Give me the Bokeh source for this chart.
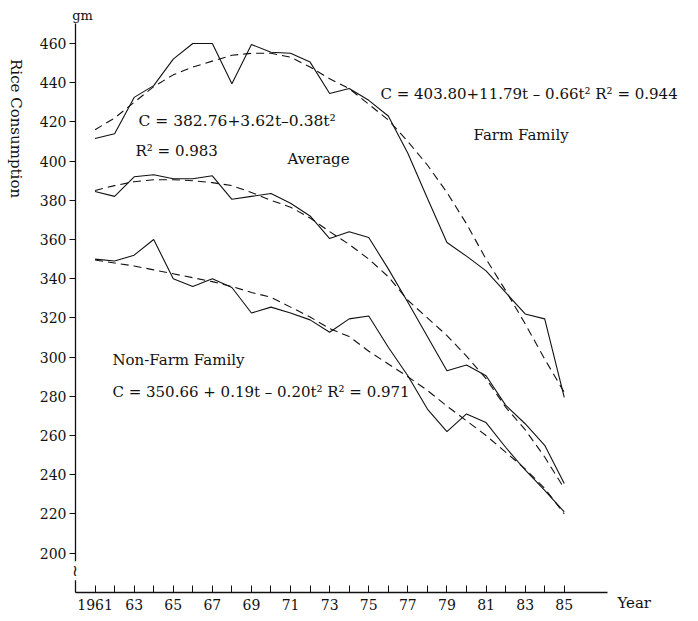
import math
from bokeh.plotting import figure
from bokeh.models import Range1d, FixedTicker, Label, LinearAxis
from bokeh.embed import file_html
from bokeh.resources import INLINE

# ---- data ----
years = [1961, 1962, 1963, 1964, 1965, 1966, 1967, 1968, 1969, 1970, 1971, 1972, 1973,
         1974, 1975, 1976, 1977, 1978, 1979, 1980, 1981, 1982, 1983, 1984, 1985]

farm = [411.5, 414, 432.5, 438.5, 452, 460, 460, 439.5, 459.5, 455.5, 455, 450.5, 434.5,
        437, 431, 423, 404, 381, 358.5, 351.5, 344, 333, 322, 319.5, 279.5]
farm_fit = [416, 422, 430, 438, 444, 448, 451, 454, 455, 455, 453, 448, 442,
            437, 429, 421, 410, 398, 384, 368, 350, 334, 317, 299, 282]

average = [384.5, 382, 392, 393, 391, 391, 392.5, 380.5, 382, 383.5, 378.5, 372, 360.5,
           364, 361, 345, 328, 310.5, 293, 296, 290.5, 275.5, 266, 255, 235.5]
average_fit = [385, 387.5, 389.5, 390.5, 390.5, 390, 389, 387.5, 384, 380, 376.5, 371, 364,
               357.5, 350, 341, 329, 320, 311, 300.5, 289, 274.5, 263, 249, 233]

nonfarm = [350, 349, 352, 360, 340, 336, 340, 335.5, 322.5, 325.5, 322.5, 319, 312.7,
           319.5, 321, 305, 290.5, 273.5, 262, 271, 266.6, 254, 242.4, 232, 221]
nonfarm_fit = [349.5, 348, 346.5, 344.5, 342.5, 340.5, 338.5, 336, 333, 330.5, 325.5, 320.5, 314.5,
               310.5, 303, 296.5, 290, 283, 275, 267.5, 260, 251.5, 243, 233, 220]

y_ticks = [200, 220, 240, 260, 280, 300, 320, 340, 360, 380, 400, 420, 440, 460]
x_ticks = years
x_tick_labels = {1961: "1961", 1963: "63", 1965: "65", 1967: "67", 1969: "69", 1971: "71",
                 1973: "73", 1975: "75", 1977: "77", 1979: "79", 1981: "81", 1983: "83", 1985: "85"}

FONT = "DejaVu Serif"
INK = "#111111"

# axis extents (data units)
X0, X1 = 1960.0, 1987.2
Y0, Y1 = 179.9, 470.2

p = figure(width=690, height=613, output_backend="svg", toolbar_location=None,
           x_range=Range1d(1956.164, 1991.458), y_range=Range1d(169.18, 481.94),
           x_axis_type=None, y_axis_type=None,
           min_border_left=0, min_border_right=0, min_border_top=0, min_border_bottom=0)
p.outline_line_color = None
p.background_fill_color = "white"
p.border_fill_color = "white"

xa = LinearAxis(fixed_location=Y0, bounds=(X0, X1))
xa.ticker = FixedTicker(ticks=x_ticks)
xa.major_label_overrides = {y: x_tick_labels.get(y, "") for y in x_ticks}
xa.major_tick_in = 7
xa.major_tick_out = 0
xa.minor_tick_line_color = None
xa.axis_line_width = 1.6
xa.axis_line_color = INK
xa.major_tick_line_color = INK
xa.major_label_text_font = FONT
xa.major_label_text_font_size = "14px"
xa.major_label_text_color = INK
xa.major_label_standoff = 7
p.add_layout(xa, "below")

ya = LinearAxis(fixed_location=X0, bounds=(Y0, Y1))
ya.ticker = FixedTicker(ticks=y_ticks)
ya.major_tick_in = 0
ya.major_tick_out = 6
ya.minor_tick_line_color = None
ya.axis_line_width = 1.3
ya.axis_line_color = INK
ya.major_tick_line_color = INK
ya.major_label_text_font = FONT
ya.major_label_text_font_size = "14px"
ya.major_label_text_color = INK
ya.major_label_standoff = 3
p.add_layout(ya, "left")

# series
for obs, fit in ((farm, farm_fit), (average, average_fit), (nonfarm, nonfarm_fit)):
    p.line(years, obs, line_color=INK, line_width=1.1)
    p.line(years, fit, line_color=INK, line_width=1.1, line_dash="8 5")

def lab(text, x, y, size="15px", align="left", angle=0.0, bg=None):
    p.add_layout(Label(x=x, y=y, text=text, text_font=FONT, text_font_size=size,
                       text_color=INK, text_align=align, text_baseline="middle",
                       angle=angle, background_fill_color=bg))

lab("C = 403.80+11.79t – 0.66t² R² = 0.944", 1975.60, 434.0, size="15px")
lab("Farm Family", 1980.36, 413.1)
lab("C = 382.76+3.62t–0.38t²", 1963.22, 420.7, size="15.5px")
lab("R² = 0.983", 1963.07, 404.9)
lab("Average", 1970.84, 401.3)
lab("Non-Farm Family", 1961.89, 298.3)
lab("C = 350.66 + 0.19t – 0.20t²   R² = 0.971", 1961.89, 282.1)
lab("gm", 1960.36, 474.3, size="13px", align="center")
lab("Year", 1987.72, 174.3)
lab("Rice Consumption", 1956.98, 416.6, size="15px", align="center", angle=-math.pi / 2)
lab("≀", 1960.0, 191.0, size="16px", align="center", bg="white")

open("out.html", "w").write(file_html(p, INLINE))
